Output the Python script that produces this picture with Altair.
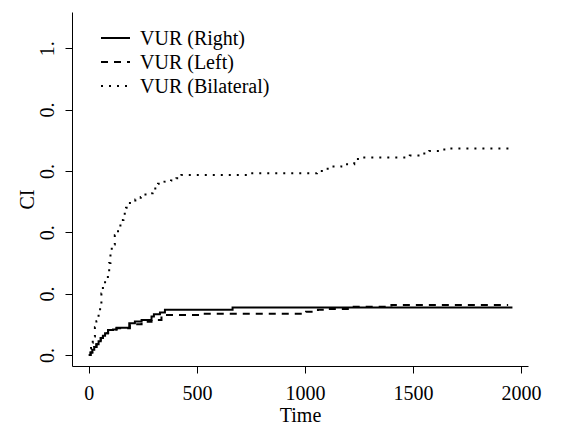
import altair as alt
import pandas as pd

series = ["VUR (Right)", "VUR (Left)", "VUR (Bilateral)"]

right_t = [0, 8, 16, 25, 35, 45, 55, 65, 75, 89, 112, 128, 187, 213, 244, 290, 301, 329, 352, 665, 1960]
right_v = [0, 0.008, 0.017, 0.026, 0.035, 0.045, 0.055, 0.063, 0.071, 0.081, 0.083, 0.089,
           0.103, 0.109, 0.114, 0.125, 0.133, 0.138, 0.147, 0.155, 0.155]

left_t = [0, 8, 16, 25, 35, 45, 55, 65, 75, 89, 112, 128, 190, 244, 290, 336, 525, 1005, 1060,
          1090, 1220, 1400, 1940]
left_v = [0, 0.008, 0.017, 0.026, 0.035, 0.045, 0.055, 0.063, 0.071, 0.081, 0.083, 0.087,
          0.100, 0.108, 0.114, 0.130, 0.134, 0.141, 0.147, 0.150, 0.157, 0.163, 0.163]

bilat_t = [0, 5, 10, 18, 28, 35, 45, 52, 58, 65, 75, 88, 94, 100, 106, 120, 135, 146, 160, 172,
           190, 215, 240, 262, 295, 320, 350, 380, 405, 428, 740, 1055, 1105, 1168, 1228, 1245,
           1485, 1545, 1575, 1638, 1672, 1955, 1958]
bilat_v = [0, 0.02, 0.04, 0.06, 0.09, 0.11, 0.14, 0.16, 0.20, 0.23, 0.25, 0.27, 0.30, 0.33,
           0.36, 0.39, 0.41, 0.44, 0.46, 0.48, 0.50, 0.507, 0.515, 0.527, 0.543, 0.558, 0.565,
           0.569, 0.576, 0.587, 0.592, 0.600, 0.614, 0.622, 0.628, 0.644, 0.650, 0.657, 0.665,
           0.670, 0.673, 0.679, 0.679]

x_ticks = [0, 500, 1000, 1500, 2000]
y_ticks = [0.0, 0.2, 0.4, 0.6, 0.8, 1.0]
y_tick_labels = ["0.", "0.", "0.", "0.", "0.", "1."]

dashes = [[1, 0], [7, 6], [2, 6]]

rows = []
for name, ts, vs in zip(series, [right_t, left_t, bilat_t], [right_v, left_v, bilat_v]):
    for t, v in zip(ts, vs):
        rows.append({"series": name, "time": t, "ci": v})
df = pd.DataFrame(rows)

label_expr = "''"
for val, lab in reversed(list(zip(y_ticks, y_tick_labels))):
    label_expr = f"abs(datum.value - {val}) < 1e-6 ? '{lab}' : ({label_expr})"

FONT = "'Liberation Serif', 'Times New Roman', Times, serif"
FS = 20

lines = alt.Chart(df).mark_line(
    interpolate="step-after", strokeWidth=2, color="black", strokeCap="butt"
).encode(
    x=alt.X(
        "time:Q",
        scale=alt.Scale(domain=[-78, 2032], nice=False, zero=False),
        axis=alt.Axis(values=x_ticks, format="d", title="Time", labelPadding=10,
                      titleY=55, titleBaseline="alphabetic"),
    ),
    y=alt.Y(
        "ci:Q",
        scale=alt.Scale(domain=[-0.036, 1.118], nice=False, zero=False),
        axis=alt.Axis(values=y_ticks, labelExpr=label_expr, labelAngle=270,
                      labelAlign="center", labelBaseline="alphabetic", labelPadding=12,
                      title="CI", titleAngle=270, titleX=-39, titleY=187,
                      titleBaseline="alphabetic", titleAlign="center"),
    ),
    strokeDash=alt.StrokeDash("series:N", scale=alt.Scale(domain=series, range=dashes), legend=None),
)

legend_layers = []
row_y = [26, 50, 74]
for name, dash, yy in zip(series, dashes, row_y):
    legend_layers.append(
        alt.Chart(alt.Data(values=[{"label": name}])).mark_rule(
            color="black", strokeWidth=2, strokeDash=dash, strokeCap="butt"
        ).encode(x=alt.value(29), x2=alt.value(58), y=alt.value(yy))
    )
    legend_layers.append(
        alt.Chart(alt.Data(values=[{"label": name}])).mark_text(
            align="left", baseline="middle", font=FONT, fontSize=FS, color="black"
        ).encode(x=alt.value(68), y=alt.value(yy + 1), text="label:N")
    )

chart = alt.layer(lines, *legend_layers).properties(
    width=456, height=354,
    autosize=alt.AutoSizeParams(type="none"),
    padding={"left": 64, "top": 4, "right": 27, "bottom": 61},
).configure_view(stroke=None).configure_axis(
    grid=False,
    domainColor="black", domainWidth=1,
    tickColor="black", tickSize=7, tickWidth=1,
    labelColor="black", labelFont=FONT, labelFontSize=FS,
    titleColor="black", titleFont=FONT, titleFontSize=FS, titleFontWeight="normal",
)

chart.save("out.html", embed_options={"renderer": "svg", "actions": False})
